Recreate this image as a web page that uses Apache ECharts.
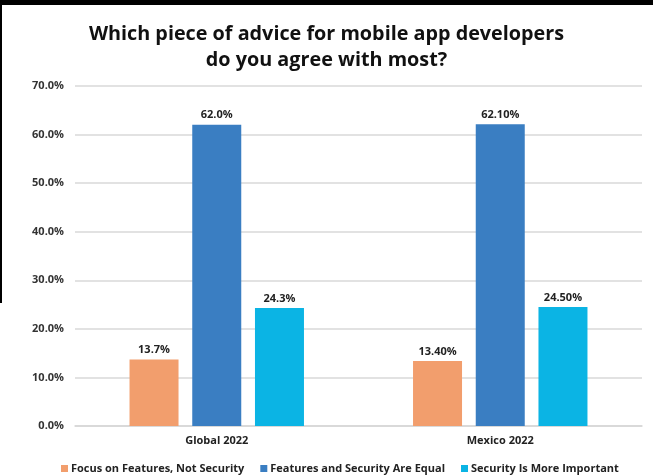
<!DOCTYPE html>
<html>
<head>
<meta charset="utf-8">
<script src="https://cdn.jsdelivr.net/npm/echarts@6/dist/echarts.min.js"></script>
<style>
html,body{margin:0;padding:0;background:#fff;}
#chart{width:653px;height:476px;}
</style>
</head>
<body>
<div id="chart"></div>
<script>
// data
const categories = ['Global 2022', 'Mexico 2022'];
const seriesNames = ['Focus on Features, Not Security', 'Features and Security Are Equal', 'Security Is More Important'];
const focusFeatures = [13.7, 13.4];
const equalBoth = [62.0, 62.1];
const securityMore = [24.3, 24.5];
const focusLabels = ['13.7%', '13.40%'];
const equalLabels = ['62.0%', '62.10%'];
const securityLabels = ['24.3%', '24.50%'];
const yTicks = [0, 10, 20, 30, 40, 50, 60, 70];

const font = '"Open Sans", "Noto Sans", sans-serif';
const colors = ['#F29E6D', '#3A7EC2', '#0BB4E4'];

var chart = echarts.init(document.getElementById('chart'));

const mkSeries = (name, data, labels, color) => ({
    name: name,
    type: 'bar',
    data: data,
    barWidth: 49,
    barGap: '28%',
    itemStyle: { color: color },
    label: {
        show: true,
        position: 'top',
        distance: 4,
        color: '#222',
        fontFamily: font,
        fontWeight: 'bold',
        fontSize: 11,
        formatter: (p) => labels[p.dataIndex]
    }
});

var option = {
    animation: false,
    color: colors,
    title: {
        text: 'Which piece of advice for mobile app developers\ndo you agree with most?',
        left: 'center',
        top: 16,
        textStyle: {
            fontFamily: font,
            fontWeight: 'bold',
            fontSize: 19.8,
            lineHeight: 26,
            color: '#111'
        }
    },
    // black edges of the scanned image
    graphic: [
        { type: 'rect', left: 0, top: 0, shape: { width: 653, height: 5 }, style: { fill: '#000' } },
        { type: 'rect', left: 0, top: 0, shape: { width: 2, height: 303 }, style: { fill: '#000' } }
    ],
    legend: {
        top: 458,
        left: 56,
        itemWidth: 7,
        itemHeight: 7,
        itemGap: 16,
        icon: 'rect',
        textStyle: {
            fontFamily: font,
            fontWeight: 'bold',
            fontSize: 11,
            color: '#222',
            padding: [0, 0, 0, -2]
        },
        data: seriesNames
    },
    grid: {
        left: 75,
        right: 11,
        top: 86,
        bottom: 50,
        containLabel: false
    },
    xAxis: {
        type: 'category',
        data: categories,
        axisTick: { show: false },
        axisLine: { lineStyle: { color: '#d6d6d6', width: 1.5 } },
        axisLabel: {
            margin: 9,
            color: '#222',
            fontFamily: font,
            fontWeight: 'bold',
            fontSize: 11
        }
    },
    yAxis: {
        type: 'value',
        min: yTicks[0],
        max: yTicks[yTicks.length - 1],
        interval: 10,
        axisLine: { show: false },
        axisTick: { show: false },
        axisLabel: {
            margin: 11,
            color: '#333',
            fontFamily: font,
            fontWeight: 'bold',
            fontSize: 11,
            formatter: (v) => v.toFixed(1) + '%'
        },
        splitLine: { lineStyle: { color: '#d9d9d9', width: 1.5 } }
    },
    series: [
        mkSeries(seriesNames[0], focusFeatures, focusLabels, colors[0]),
        mkSeries(seriesNames[1], equalBoth, equalLabels, colors[1]),
        mkSeries(seriesNames[2], securityMore, securityLabels, colors[2])
    ]
};

chart.setOption(option);
</script>
</body>
</html>
